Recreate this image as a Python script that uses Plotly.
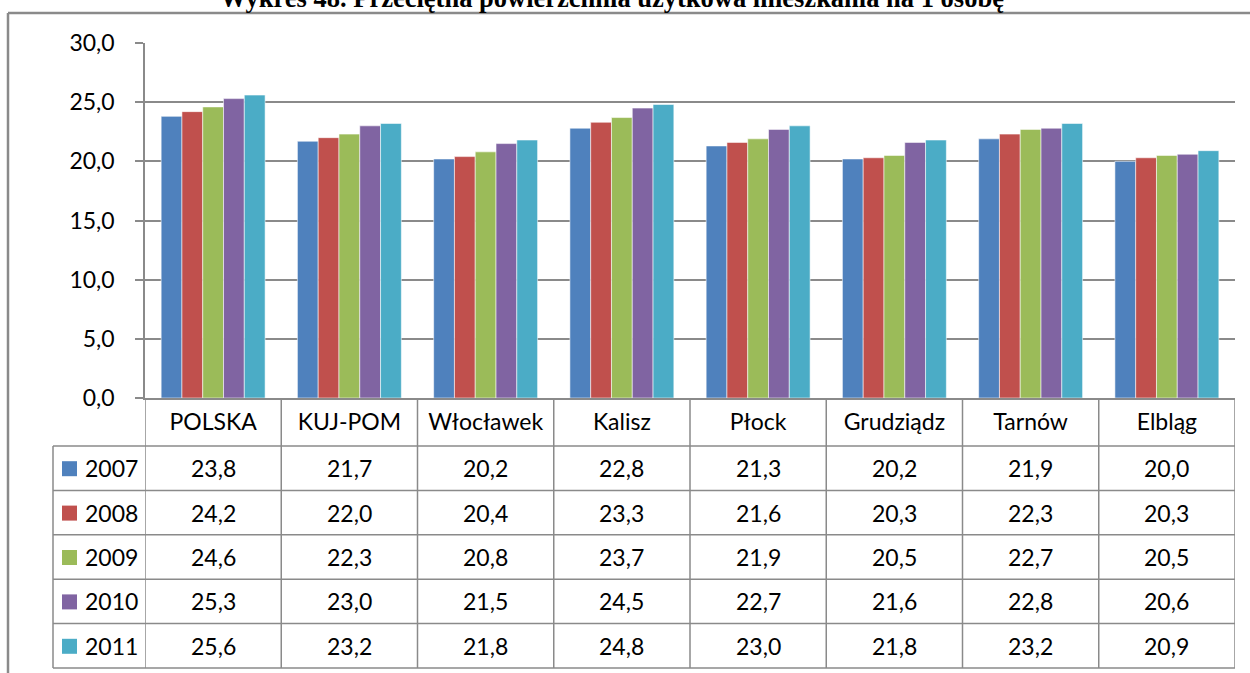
import plotly.graph_objects as go

# ---- data -------------------------------------------------------------
categories = ["POLSKA", "KUJ-POM", "Włocławek", "Kalisz", "Płock",
              "Grudziądz", "Tarnów", "Elbląg"]
years = ["2007", "2008", "2009", "2010", "2011"]
v2007 = [23.8, 21.7, 20.2, 22.8, 21.3, 20.2, 21.9, 20.0]
v2008 = [24.2, 22.0, 20.4, 23.3, 21.6, 20.3, 22.3, 20.3]
v2009 = [24.6, 22.3, 20.8, 23.7, 21.9, 20.5, 22.7, 20.5]
v2010 = [25.3, 23.0, 21.5, 24.5, 22.7, 21.6, 22.8, 20.6]
v2011 = [25.6, 23.2, 21.8, 24.8, 23.0, 21.8, 23.2, 20.9]
series = [v2007, v2008, v2009, v2010, v2011]
colors = ["#4F81BD", "#C0504D", "#9BBB59", "#8064A2", "#4BACC6"]
title = "Wykres 48. Przeciętna powierzchnia użytkowa mieszkania na 1 osobę"

# ---- page geometry (pixels) ------------------------------------------
W, H = 1250, 673
L, R, T, B = 145, 15, 43, 275          # plot-area margins
PW, PH = W - L - R, H - T - B          # plot-area size
TABLE_TOP = 446                        # first data row of the table
ROW_H = 44.4
TABLE_LEFT = 53
GRID = "#8a8a8a"
FONT = "Lato"
TXT = "#000000"


def px(x):
    return (x - L) / PW


def py(y):
    return (H - B - y) / PH


def fmt(v):
    return f"{v:.1f}".replace(".", ",")


fig = go.Figure()
for name, vals, col in zip(years, series, colors):
    fig.add_trace(go.Bar(
        x=categories, y=vals, name=name, marker_color=col,
        marker_line=dict(color="rgba(255,255,255,0.55)", width=1),
        showlegend=False,
    ))

shapes = []
annotations = []
table_bottom = TABLE_TOP + ROW_H * len(years)

# vertical category separators running through the header and table rows
for i in range(len(categories) + 1):
    shapes.append(dict(type="line", xref="x", yref="paper",
                       x0=i - 0.5, x1=i - 0.5, y0=py(H - B), y1=py(table_bottom),
                       line=dict(color=GRID, width=1.5)))
# left edge of the legend column
shapes.append(dict(type="line", xref="paper", yref="paper",
                   x0=px(TABLE_LEFT), x1=px(TABLE_LEFT),
                   y0=py(TABLE_TOP), y1=py(table_bottom),
                   line=dict(color=GRID, width=1.5)))
# horizontal row lines
for r in range(len(years) + 1):
    yy = py(TABLE_TOP + ROW_H * r)
    shapes.append(dict(type="line", xref="paper", yref="paper",
                       x0=px(TABLE_LEFT), x1=1, y0=yy, y1=yy,
                       line=dict(color=GRID, width=1.5)))

# legend keys and values in the table rows
for r, (name, vals, col) in enumerate(zip(years, series, colors)):
    cy = TABLE_TOP + ROW_H * (r + 0.5)
    shapes.append(dict(type="rect", xref="paper", yref="paper",
                       x0=px(62), x1=px(77), y0=py(cy - 7), y1=py(cy + 8),
                       fillcolor=col, line=dict(width=0)))
    annotations.append(dict(text=name, xref="paper", yref="paper",
                            x=px(83), y=py(cy), xanchor="left", yanchor="middle",
                            showarrow=False, font=dict(family=FONT, size=23, color=TXT)))
    for cat, v in zip(categories, vals):
        annotations.append(dict(text=fmt(v), xref="x", yref="paper",
                                x=cat, y=py(cy), xanchor="center", yanchor="middle",
                                showarrow=False,
                                font=dict(family=FONT, size=23, color=TXT)))

# outer chart border (top and left)
shapes.append(dict(type="line", xref="paper", yref="paper",
                   x0=px(8), x1=px(W + 5), y0=py(13), y1=py(13),
                   line=dict(color="#8a8a8a", width=2.5)))
shapes.append(dict(type="line", xref="paper", yref="paper",
                   x0=px(8), x1=px(8), y0=py(13), y1=py(H + 5),
                   line=dict(color="#8a8a8a", width=2.5)))

# title above the border
annotations.append(dict(text=f"<b>{title}</b>", xref="paper", yref="paper",
                        x=px(612), y=py(-2), xanchor="center", yanchor="middle",
                        showarrow=False,
                        font=dict(family="Liberation Serif", size=26.5, color=TXT)))

fig.update_layout(
    width=W, height=H,
    margin=dict(l=L, r=R, t=T, b=B, autoexpand=False),
    paper_bgcolor="white", plot_bgcolor="white",
    barmode="group", bargap=0.237, bargroupgap=0,
    separators=", ",
    shapes=shapes, annotations=annotations,
    xaxis=dict(
        type="category", showgrid=False, showline=True, linecolor=GRID,
        linewidth=1.5, ticks="", ticklabelstandoff=3,
        tickfont=dict(family=FONT, size=23, color=TXT),
        range=[-0.5, len(categories) - 0.5], fixedrange=True,
    ),
    yaxis=dict(
        range=[0, 30], dtick=5, tickformat=".1f", showgrid=True,
        gridcolor=GRID, gridwidth=1.5, showline=True, linecolor=GRID,
        linewidth=1.5, ticks="outside", ticklen=8, tickcolor=GRID,
        tickwidth=1.5, ticklabelstandoff=16, zeroline=False,
        tickfont=dict(family=FONT, size=23, color=TXT),
    ),
)

fig.write_html("out.html")
